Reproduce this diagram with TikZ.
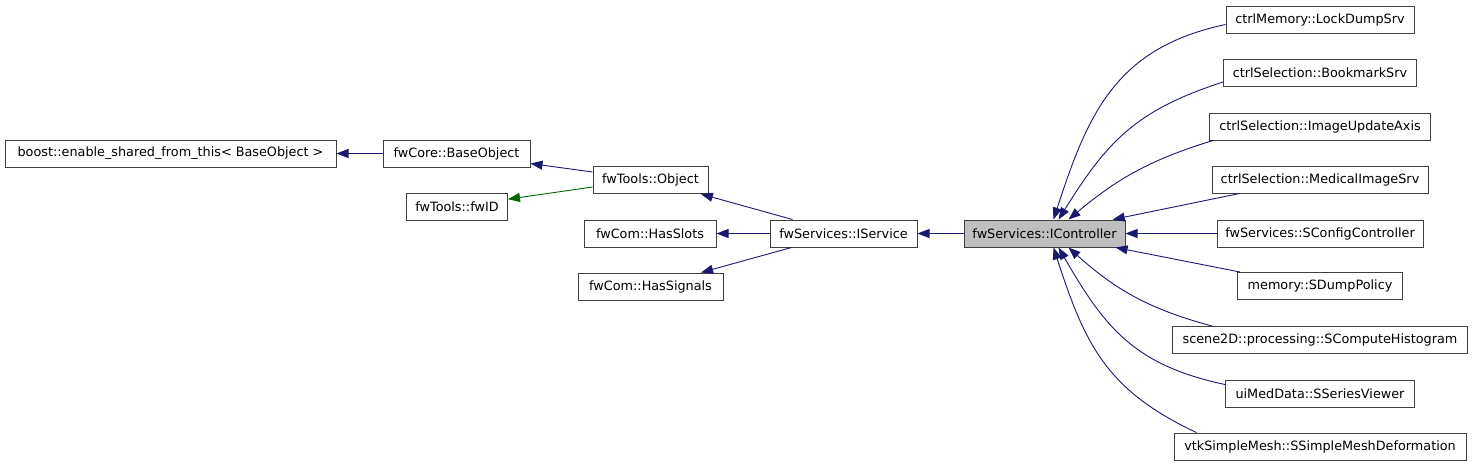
\documentclass[tikz,border=0pt]{standalone}
\usepackage{fontspec}
\setmainfont{DejaVu Sans}
\usetikzlibrary{calc, positioning}
\usetikzlibrary{arrows.meta}

\definecolor{inhblue}{HTML}{191970}
\definecolor{protgreen}{HTML}{006400}
\definecolor{curgray}{HTML}{BFBFBF}

\begin{document}
\begin{tikzpicture}[x=1pt, y=-1pt,
  cls/.style={draw=black!75, line width=1pt, fill=white, minimum height=27, inner sep=0pt,
    font=\fontsize{12.8}{14}\selectfont},
  cur/.style={cls, fill=curgray},
  inh/.style={draw=inhblue, line width=0.9pt, -{Triangle[length=12pt, width=9pt]}},
  prot/.style={inh, draw=protgreen}]
\useasboundingbox (0,0) rectangle (1480,467);

\node[cls, minimum width=331] (boost) at (170.5,153.5) {boost::enable\_shared\_from\_this< BaseObject >};
\node[cls, minimum width=147] (base) at (456.5,153.5) {fwCore::BaseObject};
\node[cls, minimum width=101] (fwid) at (457,206.5) {fwTools::fwID};
\node[cls, minimum width=115] (obj) at (650.5,180) {fwTools::Object};
\node[cls, minimum width=132] (slots) at (650,233.5) {fwCom::HasSlots};
\node[cls, minimum width=145] (sigs) at (650.5,286.5) {fwCom::HasSignals};
\node[cls, minimum width=147] (iserv) at (843.5,233.5) {fwServices::IService};
\node[cur, minimum width=161] (ictrl) at (1044.5,233.5) {fwServices::IController};

\foreach \n/\y/\w/\t in {
  lock/19.5/188/ctrlMemory::LockDumpSrv,
  bmark/73/193/ctrlSelection::BookmarkSrv,
  axis/126.5/221/ctrlSelection::ImageUpdateAxis,
  med/179.5/216/ctrlSelection::MedicalImageSrv,
  cfg/233.5/206/fwServices::SConfigController,
  dump/286/165/memory::SDumpPolicy,
  histo/340/295/scene2D::processing::SComputeHistogram,
  series/393.5/189/uiMedData::SSeriesViewer,
  mesh/446.5/292/vtkSimpleMesh::SSimpleMeshDeformation}
  \node[cls, minimum width=\w] (\n) at (1320,\y) {\t};

\draw[inh] (base) -- (boost);
\draw[inh] ($(obj.west)+(0,-8)$) -- (base);
\draw[prot] ($(obj.west)+(0,7)$) -- (fwid);
\draw[inh] ($(iserv.north west)+(23,0)$) -- (obj);
\draw[inh] (iserv) -- (slots);
\draw[inh] ($(iserv.south west)+(22,0)$) -- (sigs);
\draw[inh] (ictrl) -- (iserv);

\draw[inh] ($(lock.west)+(0,5)$) to[out=192, in=72, looseness=1.1] ($(ictrl.north)+(9,0)$);
\draw[inh] ($(bmark.west)+(0,9)$) to[out=198, in=58, looseness=1.1] ($(ictrl.north)+(14,0)$);
\draw[inh] ($(axis.south west)+(4,0)$) to[out=197, in=40] ($(ictrl.north)+(24,0)$);
\draw[inh] ($(med.south west)+(28,0)$) -- (ictrl);
\draw[inh] (cfg) -- (ictrl);
\draw[inh] ($(dump.north west)+(3,0)$) -- (ictrl);
\draw[inh] ($(histo.north west)+(40,0)$) to[out=165, in=-42] ($(ictrl.south)+(24,0)$);
\draw[inh] ($(series.west)+(0,-9)$) to[out=168, in=-60, looseness=1.1] ($(ictrl.south)+(14,0)$);
\draw[inh] ($(mesh.north west)+(23,0)$) to[out=155, in=-72, looseness=1.1] ($(ictrl.south)+(9,0)$);
\end{tikzpicture}
\end{document}
